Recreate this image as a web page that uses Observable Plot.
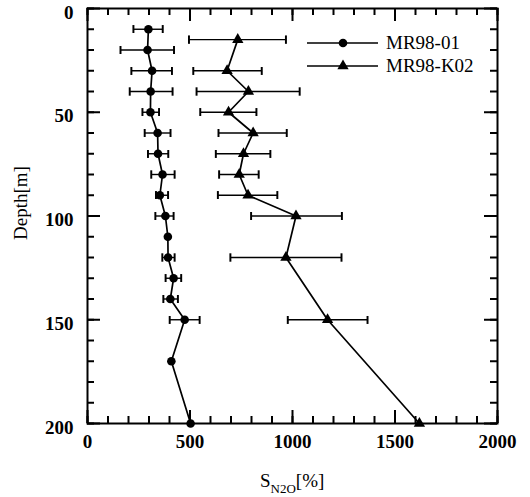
<!DOCTYPE html>
<html>
<head>
<meta charset="utf-8">
<script src="https://cdn.jsdelivr.net/npm/d3@7"></script>
<script src="https://cdn.jsdelivr.net/npm/@observablehq/plot@0.6"></script>
<style>
  html, body { margin: 0; padding: 0; background: #fff; overflow: hidden; }
  #wrap { position: relative; width: 530px; height: 497px; }
  #wrap svg { font-family: "Liberation Serif", "DejaVu Serif", serif; }
</style>
</head>
<body>
<div id="wrap"></div>
<script>
// ---- Data ----
const seriesNames = ["MR98-01", "MR98-K02"];

const depth01 = [10, 20, 30, 40, 50, 60, 70, 80, 90, 100, 110, 120, 130, 140, 150, 170, 200];
const s01     = [297, 293, 315, 308, 307, 342, 344, 366, 353, 380, 392, 393, 420, 404, 474, 409, 503];
const lo01    = [224, 161, 214, 206, 268, 279, 295, 311, 334, 331, null, 365, 381, 370, 401, null, null];
const hi01    = [367, 422, 412, 415, 349, 405, 394, 425, 393, 420, null, 425, 457, 441, 547, null, null];

const depthK02 = [15, 30, 40, 50, 60, 70, 80, 90, 100, 120, 150, 200];
const sK02     = [733, 681, 785, 688, 808, 761, 740, 783, 1017, 968, 1171, 1619];
const loK02    = [495, 516, 532, 550, 639, 626, 642, 636, 798, 697, 977, null];
const hiK02    = [968, 850, 1035, 824, 972, 892, 835, 926, 1241, 1239, 1366, null];

const xMajor = [0, 500, 1000, 1500, 2000];
const yMajor = [0, 50, 100, 150, 200];
const xMinor = d3.range(0, 2001, 100);
const yMinor = d3.range(0, 201, 10);

// ---- Build tables ----
const d01 = depth01.map((d, i) => ({depth: d, s: s01[i], lo: lo01[i], hi: hi01[i]}));
const dK02 = depthK02.map((d, i) => ({depth: d, s: sK02[i], lo: loK02[i], hi: hiK02[i]}));
const err01 = d01.filter(d => d.lo != null);
const errK02 = dK02.filter(d => d.lo != null);

const W = 530, H = 497, mL = 87, mR = 33, mT = 8, mB = 74;
const fw = W - mL - mR, fh = H - mT - mB;
const tickFont = {fontSize: 19, fontWeight: "bold"};

// inward ticks on all four sides as short rules inset from the opposite edge
const inTicks = (xs, ys, len, sw) => [
  Plot.ruleX(xs, {x: d => d, insetTop: fh - len, stroke: "#000", strokeWidth: sw}),
  Plot.ruleX(xs, {x: d => d, insetBottom: fh - len, stroke: "#000", strokeWidth: sw}),
  Plot.ruleY(ys, {y: d => d, insetRight: fw - len, stroke: "#000", strokeWidth: sw}),
  Plot.ruleY(ys, {y: d => d, insetLeft: fw - len, stroke: "#000", strokeWidth: sw})
];

const chart = Plot.plot({
  width: W,
  height: H,
  marginLeft: mL,
  marginRight: mR,
  marginTop: mT,
  marginBottom: mB,
  style: {fontFamily: "Liberation Serif, serif", color: "#000", background: "#fff"},
  x: {domain: [0, 2000]},
  y: {domain: [0, 200], reverse: true},
  marks: [
    Plot.frame({stroke: "#000", strokeWidth: 2}),
    ...inTicks(xMinor, yMinor, 7, 2),
    ...inTicks(xMajor, yMajor, 13, 2),
    // tick labels
    Plot.axisX(xMajor, {anchor: "bottom", tickSize: 0, tickPadding: 11, label: null, tickFormat: d3.format("d"), ...tickFont}),
    Plot.axisY(yMajor, {anchor: "left", tickSize: 0, tickPadding: 14, dy: 4, label: null, tickFormat: d3.format("d"), ...tickFont}),

    // error bars
    Plot.link(err01, {x1: "lo", x2: "hi", y1: "depth", y2: "depth", stroke: "#000", strokeWidth: 1.4, markerStart: "tick", markerEnd: "tick"}),
    Plot.link(errK02, {x1: "lo", x2: "hi", y1: "depth", y2: "depth", stroke: "#000", strokeWidth: 1.4, markerStart: "tick", markerEnd: "tick"}),

    // profiles
    Plot.line(d01, {x: "s", y: "depth", stroke: "#000", strokeWidth: 1.7, curve: "linear"}),
    Plot.line(dK02, {x: "s", y: "depth", stroke: "#000", strokeWidth: 1.7, curve: "linear"}),
    Plot.dot(d01, {x: "s", y: "depth", r: 4.3, fill: "#000", symbol: "circle"}),
    Plot.dot(dK02, {x: "s", y: "depth", r: 4.2, fill: "#000", symbol: "triangle"})
  ]
});

document.getElementById("wrap").appendChild(chart);

const svg = d3.select(chart);

// axis titles
svg.append("text")
  .attr("transform", "translate(27,203) rotate(-90)")
  .attr("text-anchor", "middle")
  .attr("font-size", 19)
  .attr("fill", "#000")
  .text("Depth[m]");

const xl = svg.append("text")
  .attr("x", 260).attr("y", 487)
  .attr("text-anchor", "start")
  .attr("font-size", 19)
  .attr("fill", "#000");
xl.append("tspan").text("S");
xl.append("tspan").attr("font-size", 13).attr("dy", 6).text("N2O");
xl.append("tspan").attr("dy", -6).text("[%]");

// legend
const leg = svg.append("g").attr("fill", "#000").attr("stroke", "#000");
const legItems = [
  {name: seriesNames[0], sym: d3.symbolCircle, size: Math.PI * 4.3 * 4.3},
  {name: seriesNames[1], sym: d3.symbolTriangle, size: Math.PI * 4.2 * 4.2}
];
legItems.forEach((it, i) => {
  const y = 43 + i * 23;
  leg.append("line").attr("x1", 307).attr("x2", 378).attr("y1", y).attr("y2", y).attr("stroke-width", 1.5);
  leg.append("path").attr("d", d3.symbol(it.sym, it.size)()).attr("transform", `translate(343,${y})`).attr("stroke", "none");
  leg.append("text").attr("x", 386).attr("y", y + 6).attr("text-anchor", "start").attr("stroke", "none").attr("font-size", 19).text(it.name);
});
</script>
</body>
</html>
